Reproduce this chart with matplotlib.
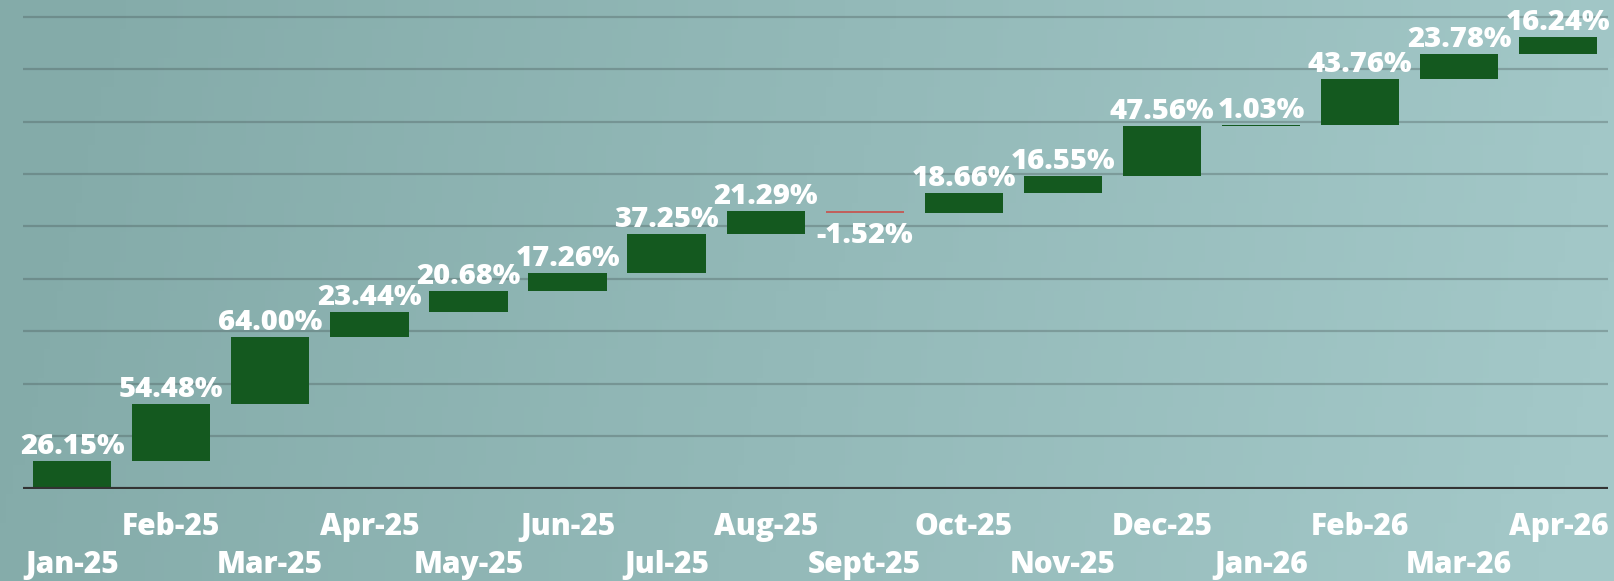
import numpy as np
import matplotlib
matplotlib.use("Agg")
import matplotlib.pyplot as plt
from matplotlib.colors import LinearSegmentedColormap

# ------------------------------------------------------------
# data (monthly change, %)
# ------------------------------------------------------------
months = ["Jan-25", "Feb-25", "Mar-25", "Apr-25", "May-25", "Jun-25",
          "Jul-25", "Aug-25", "Sept-25", "Oct-25", "Nov-25", "Dec-25",
          "Jan-26", "Feb-26", "Mar-26", "Apr-26"]
changes = [26.15, 54.48, 64.00, 23.44, 20.68, 17.26,
           37.25, 21.29, -1.52, 18.66, 16.55, 47.56,
           1.03, 43.76, 23.78, 16.24]

UP_COLOR   = "#14591f"
DOWN_COLOR = "#c0605c"
FONT       = "Open Sans"

# ------------------------------------------------------------
# figure + gradient background
# ------------------------------------------------------------
fig = plt.figure(figsize=(16.15, 5.81), dpi=100)

bg = fig.add_axes([0, 0, 1, 1], zorder=-1)
bg_cmap = LinearSegmentedColormap.from_list("bg", ["#84aba9", "#a3c8c8"])
grad = np.linspace(0, 1, 256)[None, :] * np.ones((20, 1))
grad += np.linspace(0.04, -0.04, 20)[:, None]   # a touch lighter at the top
bg.imshow(grad, aspect="auto", cmap=bg_cmap, vmin=0, vmax=1,
          extent=[0, 1, 0, 1], origin="lower")
bg.axis("off")

ax = fig.add_axes([0.014, 0.1592, 0.9816, 0.8408])
ax.patch.set_alpha(0)

# waterfall: each bar starts where the previous one ended
ends   = np.cumsum(changes)
starts = ends - np.array(changes)
x = np.arange(len(months))
colors = [UP_COLOR if c >= 0 else DOWN_COLOR for c in changes]

ax.bar(x, changes, bottom=starts, width=0.79, color=colors,
       linewidth=0, zorder=3)

# value labels
for xi, c, s, e in zip(x, changes, starts, ends):
    txt = f"{c:.2f}%"
    dy = 5 if c >= 0 else -22
    ax.annotate(txt, (xi, e), xytext=(0, dy), textcoords="offset points",
                ha="center", va="baseline", color="white",
                fontsize=21, fontweight="extra bold", family=FONT, zorder=4)

# month labels on two staggered rows
tr = ax.get_xaxis_transform()
for xi, m in zip(x, months):
    ypos = -0.173 if xi % 2 == 0 else -0.0952
    ax.text(xi, ypos, m, transform=tr, ha="center", va="baseline",
            color="white", fontsize=21.5, fontweight="extra bold", family=FONT)

# grid + base line
for g in range(50, 451, 50):
    ax.axhline(g, color="#3c4a4a", alpha=0.3, linewidth=1.6, zorder=1)
ax.axhline(0, color="#333333", linewidth=3, zorder=5)

ax.set_xlim(-0.5, len(months) - 0.5)
ax.set_ylim(0, 466.1)
ax.set_xticks([])
ax.set_yticks([])
for sp in ax.spines.values():
    sp.set_visible(False)

fig.savefig("out.png", dpi=100)
